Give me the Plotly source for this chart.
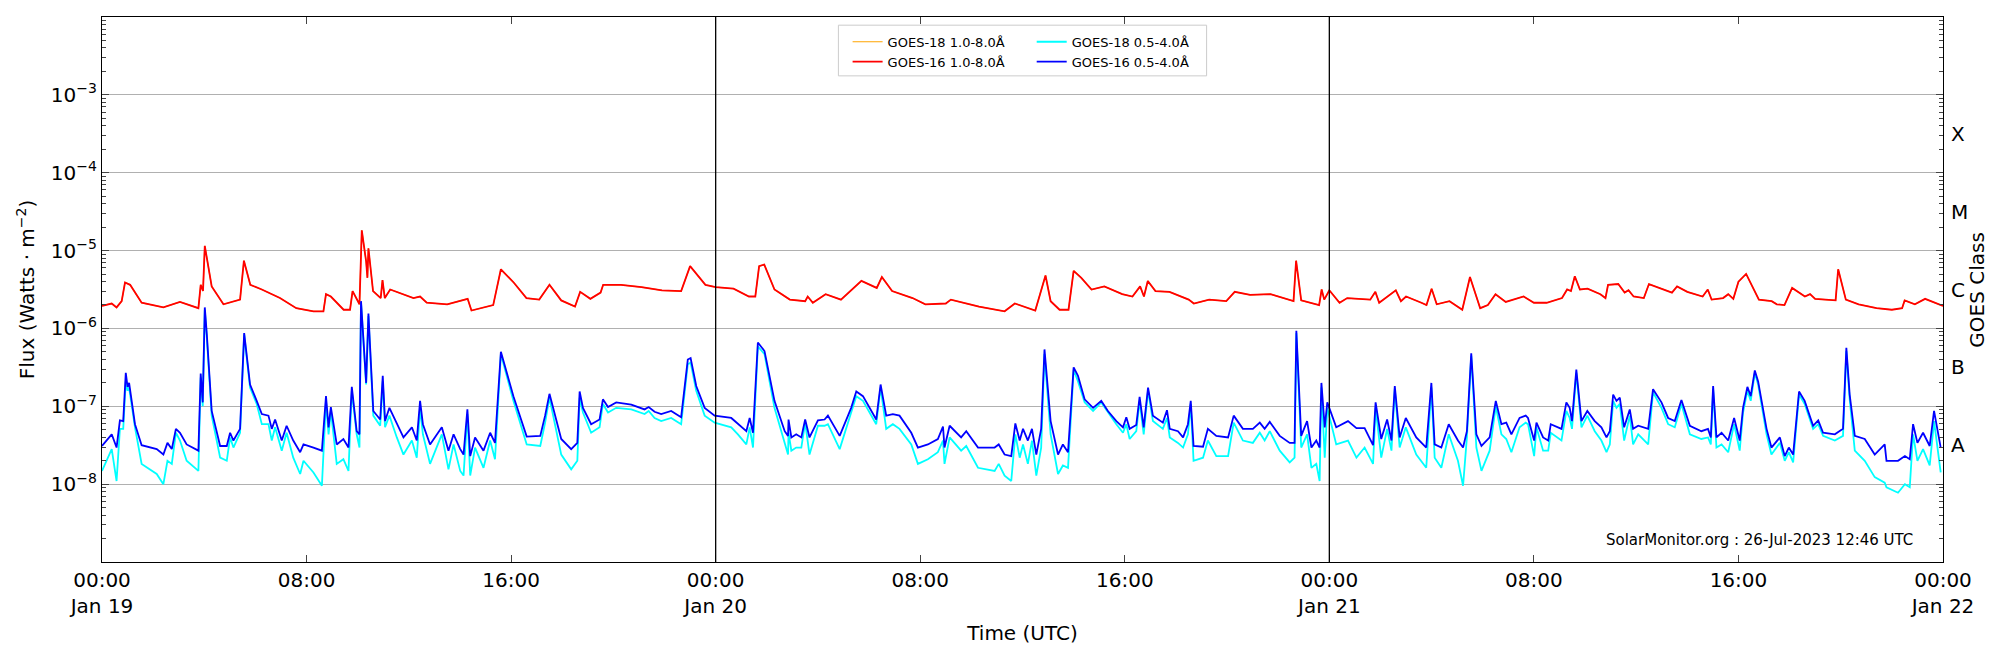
import pandas as pd
import plotly.graph_objects as go

# hours since 2023-01-19 00:00 UTC, values are log10(flux)
long_hours = [
    0, 0.38, 0.57, 0.77, 0.9, 1.1, 1.55, 2.4, 3.05, 3.77, 3.86, 3.95, 4.02, 4.29, 4.75, 5.4, 5.55, 5.8, 6.25, 6.96,
    7.6, 8.27, 8.66, 8.76, 8.95, 9.45, 9.7, 9.8, 10.07, 10.16, 10.33, 10.38, 10.42, 10.6, 10.9, 10.97, 11.06, 11.27,
    12.18, 12.44, 12.7, 13.5, 14.3, 14.45, 15.3, 15.6, 16.1, 16.6, 17.1, 17.5,
    17.96, 18.5, 18.7, 19.1, 19.5, 19.6, 20.3, 21.1, 21.9, 22.65, 23.0, 23.6, 24.0, 24.7, 25.3, 25.55, 25.7, 25.9,
    26.3, 26.9, 27.5, 27.6, 27.8, 28.3, 28.9, 29.7, 30.3, 30.5, 30.9, 31.7, 32.2, 33.0, 33.2, 34.3, 35.3, 35.7,
    36.5, 36.9, 37.1,
    37.45, 37.8, 38.0, 38.3, 38.7, 39.2, 39.9, 40.3, 40.6, 40.75, 40.9, 41.2, 41.75, 42.5, 42.7, 43.3, 43.97, 44.3,
    44.9, 45.7, 46.6, 46.7, 46.9, 47.6, 47.7, 47.8, 48.0, 48.4, 48.7, 49.6, 49.8, 49.95, 50.6, 50.8, 51.0, 51.6,
    51.8, 52.0, 52.2, 52.7, 53.2, 53.5, 53.9, 54.2, 54.5, 54.9, 55.6,
    56.0, 56.5, 57.1, 57.3, 57.45, 57.6, 57.8, 58.1, 58.6, 58.8, 58.9, 59.3, 59.55, 59.7, 59.9, 60.3, 60.5, 61.1,
    61.4, 61.6, 62.0, 62.6, 62.8, 62.95, 63.4, 63.6, 63.8, 64.0, 64.3, 64.8, 65.3, 65.5, 65.8, 66.1, 66.6, 66.8,
    67.0, 67.8, 67.9, 68.2, 68.7, 69.4, 70.0, 70.4, 70.5, 70.9, 71.3, 72.0,
]
goes16_long = [
    -5.71, -5.68, -5.73, -5.65, -5.41, -5.44, -5.67, -5.73, -5.66, -5.74, -5.44, -5.52, -4.94, -5.46, -5.69, -5.63,
    -5.13, -5.44, -5.50, -5.61, -5.74, -5.78, -5.78, -5.56, -5.59, -5.76, -5.76, -5.52, -5.69, -4.74, -5.14, -5.35,
    -4.97, -5.52, -5.61, -5.38, -5.61, -5.50, -5.61, -5.59, -5.67, -5.69, -5.62, -5.77, -5.70, -5.24, -5.41, -5.61,
    -5.63, -5.44,
    -5.64, -5.72, -5.53, -5.62, -5.54, -5.44, -5.44, -5.47, -5.51, -5.52, -5.20, -5.44, -5.47, -5.49, -5.59, -5.59,
    -5.20, -5.18, -5.50, -5.63, -5.65, -5.59, -5.67, -5.56, -5.63, -5.39, -5.48, -5.34, -5.52, -5.61, -5.69, -5.68,
    -5.63, -5.72, -5.78, -5.68, -5.77, -5.32, -5.65,
    -5.76, -5.76, -5.26, -5.35, -5.50, -5.46, -5.56, -5.59, -5.46, -5.59, -5.39, -5.52, -5.53, -5.63, -5.68, -5.63,
    -5.65, -5.53, -5.57, -5.56, -5.65, -5.13, -5.64, -5.70, -5.50, -5.63, -5.51, -5.67, -5.61, -5.63, -5.53, -5.67,
    -5.51, -5.65, -5.59, -5.67, -5.70, -5.49, -5.69, -5.65, -5.76, -5.34, -5.74, -5.70, -5.56, -5.66, -5.59,
    -5.67, -5.67, -5.61, -5.50, -5.52, -5.33, -5.50, -5.49, -5.56, -5.61, -5.44, -5.43, -5.54, -5.51, -5.59, -5.61,
    -5.43, -5.51, -5.54, -5.46, -5.53, -5.59, -5.50, -5.63, -5.61, -5.56, -5.62, -5.40, -5.30, -5.63, -5.65, -5.69,
    -5.70, -5.48, -5.59, -5.56, -5.62, -5.64, -5.24, -5.63, -5.69, -5.74, -5.76, -5.74, -5.64, -5.69, -5.62, -5.71,
]
# GOES-18 long channel sits right under GOES-16 in the picture
goes18_long = goes16_long

short_hours = [
    0, 0.38, 0.57, 0.70, 0.83, 0.93, 1.0, 1.06, 1.29, 1.55, 2.14, 2.4, 2.56, 2.73, 2.89, 3.05, 3.31, 3.77, 3.86, 3.94,
    4.02, 4.1, 4.29, 4.62, 4.88, 5.01, 5.14, 5.4, 5.56, 5.79, 6.05, 6.25, 6.51, 6.64, 6.77, 7.03, 7.22, 7.48, 7.75, 7.88,
    8.27, 8.6, 8.76, 8.86, 8.95, 9.18, 9.44, 9.64, 9.77, 9.96, 10.07, 10.13, 10.33, 10.42, 10.61, 10.88, 10.98, 11.07,
    11.24, 11.53, 11.79, 12.12, 12.31, 12.44, 12.55, 12.83, 13.29, 13.55, 13.75, 14.01, 14.14, 14.29, 14.4, 14.59,
    14.92, 15.18, 15.37, 15.6, 16.09, 16.61, 17.14, 17.33, 17.5,
    17.96, 18.35, 18.59, 18.68, 18.81, 19.13, 19.46, 19.59, 19.79, 20.11, 20.7, 21.22, 21.38, 21.61, 21.87, 22.26,
    22.65, 22.91, 23.02, 23.24, 23.57, 23.96, 24.61, 24.87, 25.2, 25.33, 25.46, 25.65, 25.91, 26.3, 26.7, 26.83, 26.85,
    26.96, 27.15, 27.35, 27.5, 27.67, 28.0, 28.26, 28.39, 28.85, 29.3, 29.5, 29.76, 30.28, 30.45, 30.67, 30.93, 31.19,
    31.65, 31.91, 32.3, 32.69, 32.89, 32.95, 33.15, 33.6, 33.8, 34.26, 34.91, 35.07, 35.3, 35.56, 35.72, 35.89, 36.02,
    36.21, 36.37, 36.54, 36.73, 36.86, 37.1,
    37.39, 37.58, 37.78, 38.0, 38.17, 38.43, 38.76, 39.08, 39.34, 39.67, 39.93, 40.06, 40.19, 40.45, 40.58, 40.74,
    40.91, 41.1, 41.49, 41.65, 41.76, 42.08, 42.28, 42.47, 42.58, 42.69, 43.06, 43.25, 43.58, 44.04, 44.26, 44.62,
    45.01, 45.28, 45.47, 45.67, 46.06, 46.45, 46.64, 46.71, 46.9, 47.13, 47.3, 47.49, 47.62, 47.69, 47.82, 47.92,
    48.27, 48.73, 49.06, 49.38, 49.71, 49.81, 50.03, 50.26, 50.43, 50.56, 50.75, 50.99, 51.4, 51.79, 51.99, 52.12,
    52.38, 52.67, 53.03, 53.23, 53.38, 53.55, 53.75, 53.95, 54.27, 54.51, 54.73, 54.92, 55.12, 55.44, 55.68,
    55.77, 56.01, 56.1, 56.36, 56.56, 56.66, 57.08, 57.27, 57.4, 57.49, 57.66, 57.86, 58.09, 58.38, 58.64, 58.84,
    58.97, 59.1, 59.23, 59.36, 59.53, 59.75, 59.88, 60.08, 60.47, 60.66, 60.99, 61.25, 61.51, 61.77, 62.1, 62.55,
    62.81, 62.92, 63.01, 63.14, 63.34, 63.6, 63.83, 64.05, 64.18, 64.35, 64.48, 64.64, 64.77, 65.1, 65.29, 65.62,
    65.81, 65.97, 66.14, 66.37, 66.59, 66.92, 67.12, 67.31, 67.77, 68.09, 68.22, 68.35, 68.55, 68.94, 69.33, 69.72,
    69.79, 70.24, 70.51, 70.7, 70.83, 71.0, 71.22, 71.48, 71.65, 71.91,
]
goes16_short = [
    -7.51, -7.36, -7.53, -7.18, -7.19, -6.57, -6.75, -6.70, -7.23, -7.50,
    -7.55, -7.62, -7.47, -7.55, -7.29, -7.34, -7.49, -7.57, -6.58, -6.95,
    -5.73, -6.08, -7.06, -7.51, -7.51, -7.34, -7.44, -7.29, -6.06, -6.72,
    -6.93, -7.10, -7.12, -7.29, -7.17, -7.44, -7.25, -7.44, -7.59, -7.49,
    -7.53, -7.57, -6.87, -7.27, -7.01, -7.49, -7.42, -7.53, -6.75, -7.32,
    -7.36, -5.65, -6.70, -5.81, -7.06, -7.17, -6.61, -7.19, -7.02, -7.23,
    -7.40, -7.27, -7.44, -6.93, -7.23, -7.49, -7.27, -7.57, -7.36, -7.55,
    -7.62, -7.04, -7.64, -7.40, -7.57, -7.34, -7.47, -6.30, -6.87, -7.39,
    -7.38, -7.12, -6.84,
    -7.42, -7.55, -7.47, -6.81, -7.02, -7.23, -7.17, -6.91, -7.01, -6.95,
    -6.98, -7.04, -7.01, -7.07, -7.10, -7.06, -7.14, -6.40, -6.38, -6.74,
    -7.02, -7.12, -7.15, -7.23, -7.32, -7.15, -7.34, -6.18, -6.29, -6.93,
    -7.32, -7.38, -7.17, -7.40, -7.36, -7.40, -7.17, -7.40, -7.18, -7.17,
    -7.12, -7.38, -7.02, -6.81, -6.87, -7.17, -6.72, -7.12, -7.10, -7.12,
    -7.34, -7.53, -7.49, -7.42, -7.26, -7.53, -7.25, -7.40, -7.32, -7.53,
    -7.53, -7.49, -7.62, -7.64, -7.22, -7.44, -7.29, -7.44, -7.29, -7.62,
    -7.29, -6.27, -7.19,
    -7.62, -7.49, -7.59, -6.50, -6.61, -6.91, -7.02, -6.93, -7.06, -7.19,
    -7.27, -7.14, -7.29, -7.24, -6.88, -7.27, -6.76, -7.12, -7.21, -7.05,
    -7.29, -7.32, -7.40, -7.23, -6.93, -7.51, -7.52, -7.29, -7.38, -7.40,
    -7.12, -7.29, -7.29, -7.21, -7.29, -7.20, -7.38, -7.47, -7.47, -6.03,
    -7.38, -7.19, -7.53, -7.44, -7.53, -6.70, -7.27, -6.95, -7.27, -7.19,
    -7.28, -7.28, -7.50, -6.95, -7.42, -7.17, -7.44, -6.74, -7.40, -7.15,
    -7.40, -7.53, -6.70, -7.49, -7.53, -7.23, -7.44, -7.53, -7.32, -6.32,
    -7.36, -7.51, -7.40, -6.93, -7.23, -7.21, -7.36, -7.15, -7.12,
    -7.15, -7.44, -7.21, -7.40, -7.44, -7.23, -7.29, -6.95, -7.02, -7.19,
    -6.53, -7.19, -7.06, -7.19, -7.27, -7.40, -7.32, -6.85, -6.93, -6.89,
    -7.27, -7.04, -7.29, -7.25, -7.29, -6.78, -6.95, -7.15, -7.19, -6.92,
    -7.25, -7.32, -7.29, -7.40, -6.74, -7.40, -7.34, -7.44, -7.15, -7.44,
    -7.02, -6.75, -6.87, -6.54, -6.68, -7.29, -7.53, -7.40, -7.64, -7.53,
    -7.62, -6.81, -6.93, -7.25, -7.18, -7.34, -7.36, -7.29, -6.25, -6.85,
    -7.38, -7.42, -7.62, -7.49, -7.70, -7.70, -7.64, -7.68, -7.23, -7.47,
    -7.34, -7.51, -7.06, -7.53,
]
goes18_short = [
    -7.83, -7.55, -7.96, -7.29, -7.29, -6.68, -6.80, -6.76, -7.27, -7.74,
    -7.87, -8.00, -7.70, -7.74, -7.34, -7.44, -7.70, -7.83, -6.63, -7.00,
    -5.76, -6.12, -7.12, -7.66, -7.70, -7.40, -7.53, -7.34, -6.08, -6.76,
    -6.97, -7.23, -7.23, -7.44, -7.27, -7.57, -7.34, -7.66, -7.87, -7.70,
    -7.85, -8.02, -6.93, -7.36, -7.06, -7.74, -7.68, -7.83, -6.80, -7.36,
    -7.53, -5.67, -6.72, -5.84, -7.12, -7.25, -6.68, -7.27, -7.12, -7.40,
    -7.62, -7.44, -7.66, -7.02, -7.36, -7.74, -7.36, -7.81, -7.49, -7.83,
    -7.89, -7.10, -7.89, -7.53, -7.79, -7.44, -7.68, -6.33, -6.93, -7.49,
    -7.51, -7.21, -6.89,
    -7.62, -7.81, -7.70, -6.89, -7.08, -7.34, -7.27, -6.97, -7.08, -7.02,
    -7.04, -7.10, -7.06, -7.15, -7.19, -7.15, -7.23, -6.46, -6.44, -6.80,
    -7.12, -7.21, -7.27, -7.36, -7.49, -7.27, -7.53, -6.23, -6.33, -7.02,
    -7.49, -7.62, -7.34, -7.57, -7.53, -7.53, -7.21, -7.62, -7.25, -7.25,
    -7.23, -7.55, -7.08, -6.87, -6.93, -7.23, -6.76, -7.29, -7.23, -7.29,
    -7.49, -7.74, -7.68, -7.59, -7.44, -7.74, -7.40, -7.57, -7.51, -7.79,
    -7.83, -7.74, -7.89, -7.96, -7.36, -7.66, -7.49, -7.74, -7.44, -7.89,
    -7.53, -6.33, -7.36,
    -7.87, -7.76, -7.79, -6.53, -6.68, -6.95, -7.06, -6.95, -7.08, -7.23,
    -7.34, -7.23, -7.42, -7.32, -6.93, -7.36, -6.80, -7.19, -7.29, -7.15,
    -7.40, -7.47, -7.53, -7.36, -6.97, -7.70, -7.66, -7.44, -7.64, -7.64,
    -7.21, -7.44, -7.47, -7.34, -7.44, -7.32, -7.57, -7.72, -7.66, -6.06,
    -7.53, -7.36, -7.79, -7.74, -7.96, -6.76, -7.66, -7.02, -7.49, -7.44,
    -7.66, -7.53, -7.74, -7.02, -7.66, -7.29, -7.57, -6.78, -7.53, -7.27,
    -7.62, -7.79, -6.76, -7.66, -7.79, -7.36, -7.70, -8.02, -7.40, -6.35,
    -7.53, -7.83, -7.57, -7.00, -7.36, -7.42, -7.59, -7.27, -7.21,
    -7.23, -7.64, -7.27, -7.57, -7.57, -7.34, -7.44, -7.06, -7.15, -7.29,
    -6.57, -7.27, -7.12, -7.32, -7.44, -7.59, -7.49, -6.93, -7.02, -6.97,
    -7.44, -7.12, -7.49, -7.36, -7.49, -6.82, -7.02, -7.23, -7.27, -6.97,
    -7.36, -7.42, -7.40, -7.49, -6.78, -7.53, -7.49, -7.59, -7.23, -7.57,
    -7.08, -6.80, -6.93, -6.57, -6.72, -7.36, -7.62, -7.47, -7.70, -7.59,
    -7.72, -6.85, -6.97, -7.29, -7.23, -7.38, -7.44, -7.38, -6.29, -6.91,
    -7.57, -7.70, -7.91, -7.98, -8.04, -8.11, -8.00, -8.04, -7.36, -7.70,
    -7.55, -7.76, -7.19, -7.85,
]

tick_hours = [0, 8, 16, 24, 32, 40, 48, 56, 64, 72]
tick_text = ["00:00<br>Jan 19", "08:00", "16:00", "00:00<br>Jan 20", "08:00", "16:00",
             "00:00<br>Jan 21", "08:00", "16:00", "00:00<br>Jan 22"]
flux_exps = [-3, -4, -5, -6, -7, -8]
goes_classes = ["A", "B", "C", "M", "X"]
class_exps = [-7.5, -6.5, -5.5, -4.5, -3.5]
day_breaks = [24, 48]

t0 = pd.Timestamp("2023-01-19")


def when(hours):
    return t0 + pd.to_timedelta(pd.Series(hours), unit="h")


def flux(logs):
    return [10 ** v for v in logs]


FONT = "DejaVu Sans"
fig = go.Figure()

fig.add_trace(go.Scatter(x=when(long_hours), y=flux(goes18_long), mode="lines", name="GOES-18 1.0-8.0Å",
                         line=dict(color="#ffa500", width=1.2), legend="legend"))
fig.add_trace(go.Scatter(x=when(long_hours), y=flux(goes16_long), mode="lines", name="GOES-16 1.0-8.0Å",
                         line=dict(color="#ff0000", width=1.8), legend="legend"))
fig.add_trace(go.Scatter(x=when(short_hours), y=flux(goes18_short), mode="lines", name="GOES-18 0.5-4.0Å",
                         line=dict(color="#00ffff", width=1.8), legend="legend2"))
fig.add_trace(go.Scatter(x=when(short_hours), y=flux(goes16_short), mode="lines", name="GOES-16 0.5-4.0Å",
                         line=dict(color="#0000ff", width=1.8), legend="legend2"))

for d in day_breaks:
    fig.add_vline(x=t0 + pd.Timedelta(hours=d), line=dict(color="black", width=1.3))

for c, e in zip(goes_classes, class_exps):
    fig.add_annotation(x=1.003, xref="paper", y=e, yref="y", text=c, showarrow=False,
                       xanchor="left", font=dict(size=20, color="black", family=FONT))
fig.add_annotation(x=1.018, xref="paper", y=0.5, yref="paper", text="GOES Class", textangle=-90,
                   showarrow=False, xanchor="center", yanchor="middle",
                   font=dict(size=20, color="black", family=FONT))
fig.add_annotation(x=0.985, xref="paper", y=0.02, yref="paper", text="SolarMonitor.org : 26-Jul-2023 12:46 UTC",
                   showarrow=False, xanchor="right", yanchor="bottom", font=dict(size=15, color="black", family=FONT))

# box drawn around both legend columns
fig.add_shape(type="rect", xref="paper", yref="paper", x0=0.4, x1=0.6, y0=0.892, y1=0.985,
              line=dict(color="#cccccc", width=1), fillcolor="rgba(255,255,255,0.8)", layer="above")

fig.update_layout(
    width=2000, height=650,
    margin=dict(l=94, r=65, t=9, b=96),
    plot_bgcolor="white", paper_bgcolor="white",
    font=dict(family=FONT, color="black"),
    legend=dict(x=0.405, y=0.982, xanchor="left", yanchor="top", bgcolor="rgba(0,0,0,0)",
                font=dict(size=13), tracegroupgap=0, itemwidth=30),
    legend2=dict(x=0.505, y=0.982, xanchor="left", yanchor="top", bgcolor="rgba(0,0,0,0)",
                 font=dict(size=13), tracegroupgap=0, itemwidth=30),
    xaxis=dict(range=[t0, t0 + pd.Timedelta(hours=72)], automargin=False,
               tickvals=list(when(tick_hours)), ticktext=tick_text,
               ticks="inside", ticklen=7, tickfont=dict(size=20), showgrid=False,
               showline=True, linecolor="black", linewidth=1.3, mirror="allticks",
               title=dict(text="Time (UTC)", font=dict(size=20), standoff=8), zeroline=False),
    yaxis=dict(type="log", range=[-9, -2], automargin=False,
               tickvals=[10 ** e for e in flux_exps],
               ticktext=[f"10<sup>{e:d}</sup>".replace("-", "−") for e in flux_exps],
               ticks="inside", ticklen=7, tickfont=dict(size=20),
               showgrid=True, gridcolor="#b0b0b0", gridwidth=1,
               minor=dict(ticks="inside", ticklen=4, showgrid=False,
                          tickvals=[m * 10 ** e for e in range(-9, -2) for m in range(2, 10)]),
               showline=True, linecolor="black", linewidth=1.3, mirror="allticks",
               title=dict(text="Flux (Watts · m<sup>−2</sup>)", font=dict(size=20), standoff=10)),
)

fig.write_html("out.html")
